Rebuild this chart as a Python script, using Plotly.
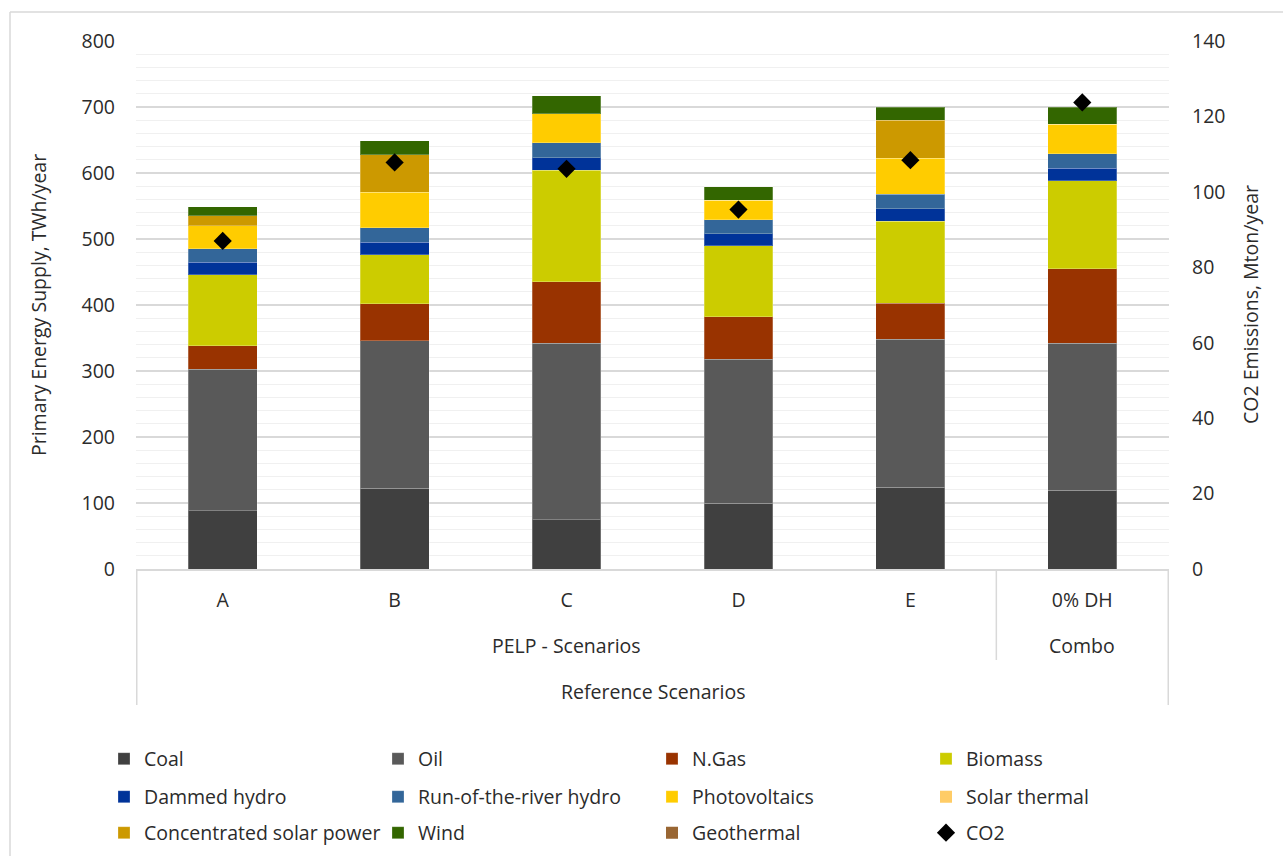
import plotly.graph_objects as go

# Scenario categories (x axis)
scenarios = ["A", "B", "C", "D", "E", "0% DH"]

# Primary energy supply by source, TWh/year
coal = [88, 122, 75, 100, 124, 119]
oil = [215, 224, 267, 218, 224, 223]
n_gas = [35, 56, 93, 64, 55, 113]
biomass = [108, 74, 169, 108, 124, 133]
dammed_hydro = [19, 19, 19, 18, 19, 19]
run_of_river = [20, 22, 23, 21, 22, 22]
photovoltaics = [35, 54, 44, 30, 54, 45]
solar_thermal = [0, 0, 0, 0, 0, 0]
concentrated_solar = [15, 57, 0, 0, 58, 0]
wind = [14, 21, 27, 20, 20, 26]
geothermal = [0, 0, 0, 0, 0, 0]

# CO2 emissions, Mton/year (right axis)
co2 = [87.0, 107.8, 106.1, 95.3, 108.4, 123.7]

# Category grouping labels
group_pelp = "PELP - Scenarios"
group_combo = "Combo"
group_reference = "Reference Scenarios"

FONT = "Open Sans, Noto Sans, sans-serif"
TEXT = "#2b2b2b"
FS = 19.5

series = [
    ("Coal", coal, "#404040", "legend"),
    ("Oil", oil, "#595959", "legend"),
    ("N.Gas", n_gas, "#993300", "legend"),
    ("Biomass", biomass, "#CCCC00", "legend"),
    ("Dammed hydro", dammed_hydro, "#003399", "legend2"),
    ("Run-of-the-river hydro", run_of_river, "#336699", "legend2"),
    ("Photovoltaics", photovoltaics, "#FFCC00", "legend2"),
    ("Solar thermal", solar_thermal, "#FFCC66", "legend2"),
    ("Concentrated solar power", concentrated_solar, "#CC9900", "legend3"),
    ("Wind", wind, "#336600", "legend3"),
    ("Geothermal", geothermal, "#996633", "legend3"),
]

fig = go.Figure()
for name, vals, color, leg in series:
    has_data = any(v > 0 for v in vals)
    fig.add_trace(go.Bar(
        x=scenarios, y=vals, name=name, legend=leg,
        marker=dict(color=color,
                    line=dict(color="rgba(255,255,255,0.25)",
                              width=1 if has_data else 0)),
    ))

fig.add_trace(go.Scatter(
    x=scenarios, y=co2, name="CO2", legend="legend3", yaxis="y2",
    mode="markers",
    marker=dict(symbol="diamond", size=14, color="#000000"),
))

W, H = 1283, 856
L, R, T, B = 136, 114, 41, 287
pw, ph = W - L - R, H - T - B


def px_x(px):
    return (px - L) / pw


def px_y(py):
    return (H - B - py) / ph


line_col = "#d9d9d9"
shapes = [
    # category axis dividers
    dict(type="line", xref="x", yref="paper", x0=-0.5, x1=-0.5,
         y0=0, y1=px_y(705), line=dict(color=line_col, width=1.5)),
    dict(type="line", xref="x", yref="paper", x0=4.5, x1=4.5,
         y0=0, y1=px_y(660), line=dict(color=line_col, width=1.5)),
    dict(type="line", xref="x", yref="paper", x0=5.5, x1=5.5,
         y0=0, y1=px_y(705), line=dict(color=line_col, width=1.5)),
    # outer chart frame
    dict(type="line", xref="paper", yref="paper", x0=px_x(10), x1=px_x(1300),
         y0=px_y(12), y1=px_y(12), line=dict(color=line_col, width=1.5)),
    dict(type="line", xref="paper", yref="paper", x0=px_x(10), x1=px_x(10),
         y0=px_y(12), y1=px_y(900), line=dict(color=line_col, width=1.5)),
]

annotations = [
    dict(text=group_pelp, x=2, xref="x", y=px_y(645), yref="paper",
         showarrow=False, xanchor="center", yanchor="middle"),
    dict(text=group_combo, x=5, xref="x", y=px_y(645), yref="paper",
         showarrow=False, xanchor="center", yanchor="middle"),
    dict(text=group_reference, x=2.5, xref="x", y=px_y(691), yref="paper",
         showarrow=False, xanchor="center", yanchor="middle"),
    dict(text="Primary Energy Supply, TWh/year", x=px_x(38), xref="paper",
         y=0.5, yref="paper", textangle=-90, showarrow=False,
         xanchor="center", yanchor="middle"),
    dict(text="CO2 Emissions, Mton/year", x=px_x(1250), xref="paper",
         y=0.5, yref="paper", textangle=-90, showarrow=False,
         xanchor="center", yanchor="middle"),
]
for a in annotations:
    a["font"] = dict(family=FONT, size=FS, color=TEXT)


def legend_row(py):
    return dict(
        orientation="h", x=px_x(104), xanchor="left",
        y=px_y(py), yanchor="middle", yref="paper",
        entrywidth=229, entrywidthmode="pixels",
        font=dict(family=FONT, size=FS, color=TEXT),
        bgcolor="rgba(0,0,0,0)", traceorder="normal",
    )


fig.update_layout(
    width=W, height=H,
    margin=dict(l=L, r=R, t=T, b=B, autoexpand=False),
    paper_bgcolor="white", plot_bgcolor="white",
    barmode="stack", bargap=0.6,
    font=dict(family=FONT, size=FS, color=TEXT),
    showlegend=True,
    legend=legend_row(759),
    legend2=legend_row(797),
    legend3=legend_row(833),
    xaxis=dict(
        type="category", showgrid=False, showline=True,
        linecolor=line_col, linewidth=1.5, ticks="",
        ticklabelstandoff=13,
        tickfont=dict(family=FONT, size=FS, color=TEXT),
    ),
    yaxis=dict(
        range=[0, 800], dtick=100, showgrid=True, gridcolor=line_col,
        gridwidth=1.5, zeroline=False, showline=False, ticks="",
        ticklabelstandoff=20,
        tickfont=dict(family=FONT, size=FS, color=TEXT),
        minor=dict(dtick=20, showgrid=True, gridcolor="#f0f0f0", gridwidth=1),
    ),
    yaxis2=dict(
        range=[0, 140], dtick=20, overlaying="y", side="right",
        showgrid=False, zeroline=False, showline=False, ticks="",
        ticklabelstandoff=22,
        tickfont=dict(family=FONT, size=FS, color=TEXT),
    ),
    shapes=shapes,
    annotations=annotations,
)

fig.write_html("out.html")
